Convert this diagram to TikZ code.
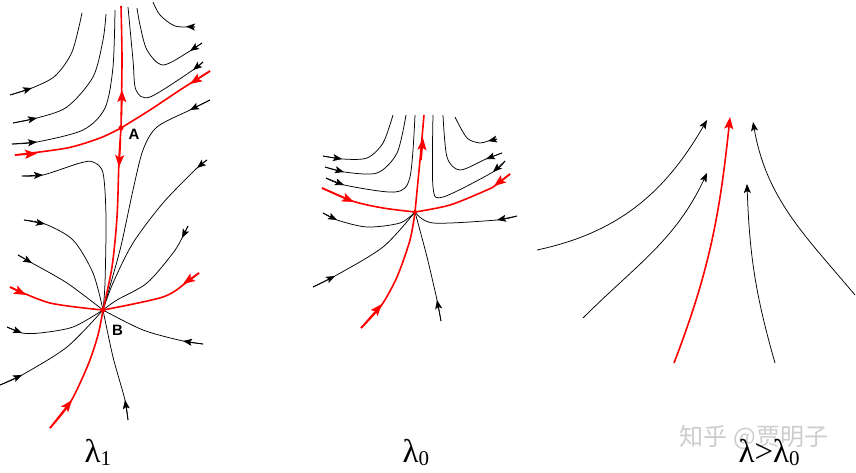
\documentclass[tikz,border=0pt]{standalone}
\usepackage{fontspec}
\setmainfont{Liberation Serif}
\setsansfont{Liberation Sans}
\newfontfamily\cjkfont{Noto Sans CJK SC}
\usetikzlibrary{arrows.meta}

\tikzset{
  orbit/.style={line width=0.75pt},
  separatrix/.style={red, line width=1.6pt},
  tip/.style={-{Stealth[length=9pt,width=7pt,inset=2pt]}},
  redtip/.style={-{Stealth[length=12pt,width=9pt,inset=2.5pt]}},
  fixpt/.style={circle, fill=red, inner sep=0pt, minimum size=5pt},
  ptlabel/.style={font=\sffamily\bfseries\fontsize{15}{15}\selectfont},
  lamlabel/.style={anchor=base west, font=\fontsize{33}{33}\selectfont},
}
\newcommand\lamsub[1]{\raisebox{-0.12em}{\fontsize{21}{21}\selectfont #1}}

\begin{document}
\begin{tikzpicture}[x=1pt, y=1pt]
\useasboundingbox (0,0) rectangle (856,-473);
\coordinate (A) at (121,-128);
\coordinate (B) at (103,-310);
\coordinate (C) at (415,-212);

% lambda_1: saddle A and node B
\draw[orbit] plot[smooth] coordinates {(10,-95) (32,-88) (55,-76) (72,-52) (82,-13)};
\draw[orbit, tip] (10,-95) -- (32,-88);
\draw[orbit] plot[smooth] coordinates {(13,-123) (37,-118) (67,-107) (93,-77) (103,-40) (106,-14)};
\draw[orbit, tip] (13,-123) -- (37,-118);
\draw[orbit] plot[smooth] coordinates {(12,-144) (37,-142) (83,-130) (105,-108) (113,-67) (115,-10)};
\draw[orbit, tip] (12,-144) -- (37,-142);
\draw[orbit] plot[smooth] coordinates {(195,-27) (175,-26) (160,-15) (153,-2)};
\draw[orbit, tip] (195,-27) -- (186,-26.5);
\draw[orbit] plot[smooth] coordinates {(202,-43) (190,-51) (163,-65) (147,-50) (140,-25) (137,-8)};
\draw[orbit, tip] (202,-43) -- (190,-51);
\draw[orbit] plot[smooth] coordinates {(203,-62) (193,-70) (150,-97) (136,-90) (133,-60) (128,-7)};
\draw[orbit, tip] (203,-62) -- (193,-70);
\draw[orbit] plot[smooth] coordinates {(22,-176) (43,-175) (80,-163) (93,-162) (103,-173) (106,-217) (105,-283) (B)};
\draw[orbit, tip] (22,-176) -- (43,-175);
\draw[orbit] plot[smooth] coordinates {(210,-100) (190,-110) (157,-127) (143,-150) (133,-190) (120,-250) (B)};
\draw[orbit, tip] (210,-100) -- (190,-110);
\draw[orbit] plot[smooth] coordinates {(207,-160) (197,-168) (163,-203) (133,-243) (113,-283) (B)};
\draw[orbit, tip] (207,-160) -- (197,-168);
\draw[orbit] plot[smooth] coordinates {(188,-226) (182,-238) (173,-253) (147,-283) (117,-300) (B)};
\draw[orbit, tip] (188,-226) -- (182,-238);
\draw[orbit] plot[smooth] coordinates {(24,-220) (45,-224) (73,-240) (93,-273) (B)};
\draw[orbit, tip] (24,-220) -- (45,-224);
\draw[orbit] plot[smooth] coordinates {(18,-255) (32,-263) (67,-283) (B)};
\draw[orbit, tip] (18,-255) -- (32,-263);
\draw[orbit] plot[smooth] coordinates {(7,-327) (22,-333) (40,-333) (73,-327) (B)};
\draw[orbit, tip] (7,-327) -- (22,-333);
\draw[orbit] plot[smooth] coordinates {(0,-385) (22,-375) (67,-347) (B)};
\draw[orbit, tip] (0,-385) -- (22,-375);
\draw[orbit] plot[smooth] coordinates {(203,-344) (183,-341) (143,-330) (B)};
\draw[orbit, tip] (203,-344) -- (183,-341);
\draw[orbit] plot[smooth] coordinates {(128,-420) (125,-400) (113,-357) (B)};
\draw[orbit, tip] (128,-420) -- (125,-400);

\draw[separatrix] plot[smooth] coordinates {(A) (122,-60) (121,-6)};
\draw[separatrix, redtip] (121.5,-115) -- (122,-90);
\draw[separatrix] plot[smooth] coordinates {(A) (119,-160) (117,-217) (112,-267) (B)};
\draw[separatrix, redtip] (120.5,-140) -- (119,-167);
\draw[separatrix] plot[smooth] coordinates {(50,-428) (70,-403) (88,-365) (98,-335) (B)};
\draw[separatrix, redtip] (50,-428) -- (72,-400);
\draw[separatrix] plot[smooth] coordinates {(15,-155) (67,-148) (100,-138) (A)};
\draw[separatrix, redtip] (15,-155) -- (37,-153.5);
\draw[separatrix] plot[smooth] coordinates {(210,-71) (180,-90) (150,-110) (A)};
\draw[separatrix, redtip] (210,-71) -- (190,-84);
\draw[separatrix] plot[smooth] coordinates {(10,-287) (50,-303) (B)};
\draw[separatrix, redtip] (10,-287) -- (26,-295);
\draw[separatrix] plot[smooth] coordinates {(199,-273) (187,-282) (163,-297) (B)};
\draw[separatrix, redtip] (199,-273) -- (183,-284);
\node[fixpt] (ptA) at (A) {};
\node[fixpt] (ptB) at (B) {};
\node[ptlabel] (labA) at (134,-134) {A};
\node[ptlabel] (labB) at (117.5,-330.5) {B};

% lambda_0: saddle-node C
\draw[orbit] plot[smooth] coordinates {(323,-156) (342,-159) (367,-158) (383,-143) (393,-115)};
\draw[orbit, tip] (323,-156) -- (342,-159);
\draw[orbit] plot[smooth] coordinates {(325,-167) (344,-172) (377,-173) (397,-153) (406,-115)};
\draw[orbit, tip] (325,-167) -- (344,-172);
\draw[orbit] plot[smooth] coordinates {(326,-178) (344,-185) (395,-192) (410,-177) (415,-115)};
\draw[orbit, tip] (326,-178) -- (344,-185);
\draw[orbit] plot[smooth] coordinates {(497,-139) (488,-141) (480,-143) (467,-138) (455,-117)};
\draw[orbit, tip] (497,-139) -- (488,-141);
\draw[orbit] plot[smooth] coordinates {(502,-153) (486,-159) (460,-170) (447,-157) (443,-115)};
\draw[orbit, tip] (502,-153) -- (486,-159);
\draw[orbit] plot[smooth] coordinates {(505,-161) (493,-172) (443,-197) (433,-187) (433,-115)};
\draw[orbit, tip] (505,-161) -- (493,-172);
\draw[orbit] plot[smooth] coordinates {(323,-213) (337,-220) (367,-227) (400,-223) (C)};
\draw[orbit, tip] (323,-213) -- (337,-220);
\draw[orbit] plot[smooth] coordinates {(517,-216) (497,-220) (433,-223) (C)};
\draw[orbit, tip] (517,-216) -- (497,-220);
\draw[orbit] plot[smooth] coordinates {(313,-287) (335,-276) (383,-247) (C)};
\draw[orbit, tip] (313,-287) -- (335,-276);
\draw[orbit] plot[smooth] coordinates {(441,-321) (437,-300) (427,-257) (C)};
\draw[orbit, tip] (441,-321) -- (437,-300);

\draw[separatrix] plot[smooth] coordinates {(C) (420,-160) (424,-115)};
\draw[separatrix, redtip] (421,-160) -- (423,-138);
\draw[separatrix] plot[smooth] coordinates {(361,-328) (381,-306) (397,-277) (410,-240) (C)};
\draw[separatrix, redtip] (361,-328) -- (382,-304);
\draw[separatrix] plot[smooth] coordinates {(322,-188) (352,-201) (383,-208) (C)};
\draw[separatrix, redtip] (322,-188) -- (354,-202);
\draw[separatrix] plot[smooth] coordinates {(510,-174) (496,-185) (487,-190) (450,-205) (C)};
\draw[separatrix, redtip] (510,-174) -- (494,-186);
\node[fixpt, minimum size=4pt] (ptC) at (C) {};

% lambda > lambda_0: no fixed point
\draw[orbit, tip] (537,-250) to[out=12, in=-120] (707,-120);
\draw[orbit, tip] (583,-318) to[out=45, in=-115] (707,-173);
\draw[orbit, tip] (775,-363) to[out=106, in=-88] (747,-184);
\draw[orbit, tip] (855,-295) to[out=130, in=-80] (753,-122);
\draw[separatrix, redtip] (674,-363) to[out=69, in=-96] (730,-117);

% labels
\node[text=gray!40, font=\cjkfont\fontsize{24}{24}\selectfont] (mark) at (754,-437) {知乎 @贾明子};
\node[lamlabel] (lam1) at (81,-462) {λ\lamsub{1}};
\node[lamlabel] (lam0) at (399,-462) {λ\lamsub{0}};
\node[lamlabel] (lam2) at (735,-462) {λ>λ\lamsub{0}};
\end{tikzpicture}
\end{document}
